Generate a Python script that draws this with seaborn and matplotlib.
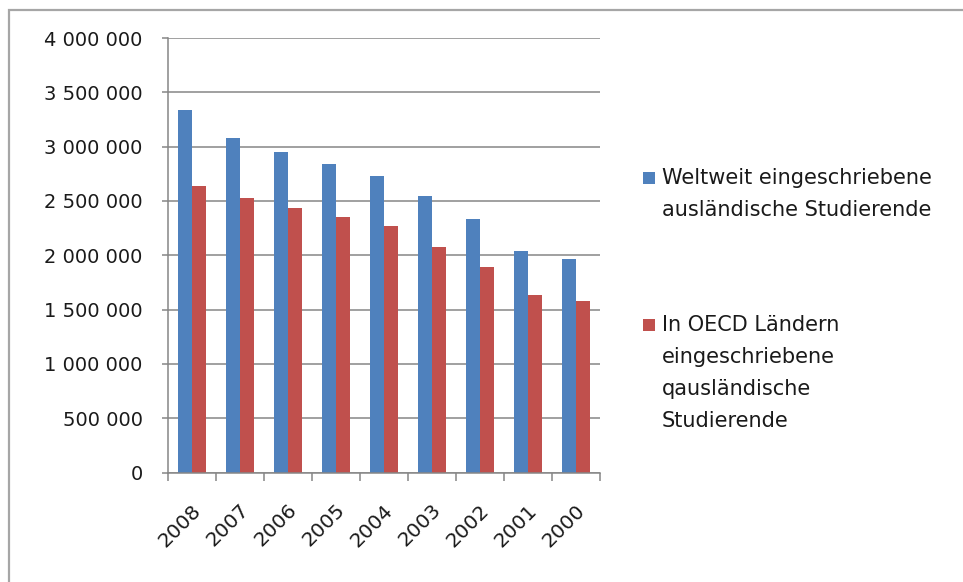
import numpy as np
import pandas as pd
import matplotlib
matplotlib.use("Agg")
import matplotlib.pyplot as plt
import matplotlib.ticker as mticker
from matplotlib.patches import Rectangle
import matplotlib.transforms as mtransforms
import seaborn as sns

years = ["2008", "2007", "2006", "2005", "2004", "2003", "2002", "2001", "2000"]
weltweit = [3340000, 3080000, 2950000, 2840000, 2730000, 2545000, 2337000, 2042000, 1970000]
oecd = [2635000, 2525000, 2433000, 2356000, 2267000, 2079000, 1895000, 1634000, 1579000]
series_names = ["Weltweit eingeschriebene\nausländische Studierende",
                "In OECD Ländern\neingeschriebene\nqausländische\nStudierende"]
colors = ["#4F81BD", "#C0504D"]

df = pd.DataFrame({
    "Jahr": years * 2,
    "Serie": [series_names[0]] * len(years) + [series_names[1]] * len(years),
    "Wert": weltweit + oecd,
})

sns.set_style("white")
plt.rcParams["font.family"] = ["DejaVu Sans"]

W, H = 963, 582
fig = plt.figure(figsize=(W / 100, H / 100), dpi=100)
ax = fig.add_axes([168 / W, 1 - 472.5 / H, (600 - 168) / W, (472.5 - 38) / H])

sns.barplot(data=df, x="Jahr", y="Wert", hue="Serie", palette=colors,
            width=0.583, order=years, hue_order=series_names, ax=ax,
            legend=False, saturation=1, edgecolor="none")

grid_c = "#868686"
ax.set_ylim(0, 4000000)
ax.set_xlim(-0.5, len(years) - 0.5)
ax.yaxis.set_major_locator(mticker.MultipleLocator(500000))
ax.yaxis.set_major_formatter(mticker.FuncFormatter(lambda v, p: f"{int(v):,}".replace(",", " ")))
ax.yaxis.grid(True, color=grid_c, linewidth=1.1)
ax.set_axisbelow(True)
ax.set_xlabel("")
ax.set_ylabel("")
for s in ["top", "right"]:
    ax.spines[s].set_visible(False)
for s in ["left", "bottom"]:
    ax.spines[s].set_color(grid_c)
    ax.spines[s].set_linewidth(1.1)

ax.tick_params(axis="y", which="major", length=4.3, width=1.1, color=grid_c,
               direction="out", pad=14, labelsize=14, labelcolor="#1a1a1a", left=True)
ax.set_xticks(np.arange(-0.5, len(years), 1.0), minor=True)
ax.tick_params(axis="x", which="minor", length=5.5, width=1.1, color=grid_c, direction="out", bottom=True)
ax.tick_params(axis="x", which="major", length=0, pad=25, labelsize=14.5, labelcolor="#1a1a1a")
ax.set_xticks(range(len(years)))
ax.set_xticklabels(years, rotation=45, ha="right", va="center", rotation_mode="anchor")
offset = mtransforms.ScaledTranslation(6 / 100, 0, fig.dpi_scale_trans)
for lbl in ax.get_xticklabels():
    lbl.set_transform(lbl.get_transform() + offset)

# outer chart frame
frame = Rectangle((8.5 / W, -0.2), 2, 1 - 10 / H + 0.2, transform=fig.transFigure,
                  fill=False, edgecolor="#a6a6a6", linewidth=1.6, clip_on=False)
fig.patches.append(frame)

# legend (manual, first line aligned with marker)
line_h = 32
entries = [(178, series_names[0], colors[0]), (325, series_names[1], colors[1])]
for yc, name, col in entries:
    fig.patches.append(Rectangle((643 / W, 1 - (yc + 6) / H), 12 / W, 12 / H,
                                 transform=fig.transFigure, facecolor=col, edgecolor="none"))
    for i, line in enumerate(name.split("\n")):
        fig.text(662 / W, 1 - (yc + i * line_h) / H, line, ha="left", va="center",
                 fontsize=15, color="#1a1a1a")

fig.savefig("out.png", dpi=100)
